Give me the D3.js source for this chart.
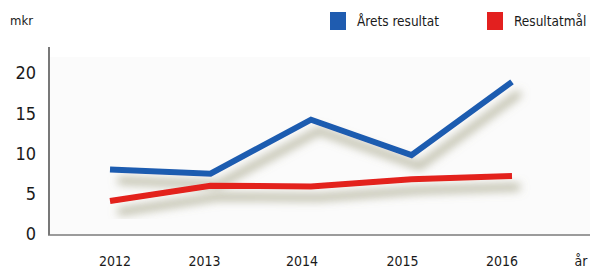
<!DOCTYPE html>
<html>
<head>
<meta charset="utf-8">
<script src="https://cdn.jsdelivr.net/npm/d3@7"></script>
<style>
  body { margin: 0; background: #fff; }
  text { font-family: "DejaVu Sans Condensed", "Liberation Sans Narrow", sans-serif; fill: #1a1a1a; }
</style>
</head>
<body>
<svg id="chart"></svg>
<script>
// data
var years = [2012, 2013, 2014, 2015, 2016];
var aretsResultat = [8.0, 7.5, 14.2, 9.8, 18.9];
var resultatmal = [4.1, 6.0, 5.9, 6.8, 7.2];
var yTicks = [0, 5, 10, 15, 20];
var seriesNames = ["Årets resultat", "Resultatmål"];
var seriesColors = ["#1f5cb0", "#e3201f"];

var width = 592, height = 274;

var svg = d3.select("#chart")
  .attr("width", width)
  .attr("height", height);

// soft olive drop shadow under the lines
var defs = svg.append("defs");
var f = defs.append("filter").attr("id", "shadow")
  .attr("x", "-20%").attr("y", "-50%").attr("width", "150%").attr("height", "220%");
f.append("feGaussianBlur").attr("in", "SourceAlpha").attr("stdDeviation", 5).attr("result", "blur");
f.append("feOffset").attr("in", "blur").attr("dx", 8).attr("dy", 11).attr("result", "off");
f.append("feFlood").attr("flood-color", "#8b8a66").attr("flood-opacity", 0.7);
f.append("feComposite").attr("in2", "off").attr("operator", "in").attr("result", "sh");
var m = f.append("feMerge");
m.append("feMergeNode").attr("in", "sh");
m.append("feMergeNode").attr("in", "SourceGraphic");

var x = d3.scalePoint()
  .domain(years)
  .range([110, 512]);

var y = d3.scaleLinear()
  .domain([0, 20])
  .range([234, 73]);

// plot background
svg.append("rect")
  .attr("x", 49).attr("y", 57)
  .attr("width", 541).attr("height", 177)
  .attr("fill", "#fbfbfb");

// axes lines
svg.append("line")
  .attr("x1", 49).attr("x2", 49)
  .attr("y1", 47).attr("y2", y(0) + 1)
  .attr("stroke", "#6a6a6a").attr("stroke-width", 1.8);
svg.append("line")
  .attr("x1", 48).attr("x2", 590)
  .attr("y1", y(0) + 1).attr("y2", y(0) + 1)
  .attr("stroke", "#7a7a7a").attr("stroke-width", 1.5);

// y tick labels
svg.append("g")
  .selectAll("text")
  .data(yTicks)
  .enter()
  .append("text")
    .attr("x", 36)
    .attr("y", function (d) { return y(d); })
    .attr("dy", "0.36em")
    .style("text-anchor", "end")
    .style("font-size", "18px")
    .text(function (d) { return d; });

svg.append("text")
  .attr("x", 10).attr("y", 25)
  .style("font-size", "13px")
  .text("mkr");

// x tick labels
svg.append("g")
  .selectAll("text")
  .data(years)
  .enter()
  .append("text")
    .attr("x", function (d, i) { return x(d) + [5, -6, -9, -9, -10][i]; })
    .attr("y", 266)
    .style("text-anchor", "middle")
    .style("font-size", "14px")
    .text(function (d) { return d; });

svg.append("text")
  .attr("x", 581).attr("y", 266)
  .style("text-anchor", "middle")
  .style("font-size", "14px")
  .text("år");

// lines
var line = d3.line()
  .x(function (d, i) { return x(years[i]); })
  .y(function (d) { return y(d); });

[aretsResultat, resultatmal].forEach(function (s, i) {
  svg.append("path")
    .datum(s)
    .attr("d", line)
    .attr("fill", "none")
    .attr("stroke", seriesColors[i])
    .attr("stroke-width", 6)
    .attr("stroke-linejoin", "miter")
    .attr("filter", "url(#shadow)");
});

// legend
var legendX = [330, 487];
seriesNames.forEach(function (name, i) {
  svg.append("rect")
    .attr("x", legendX[i]).attr("y", 12)
    .attr("width", 16).attr("height", 18)
    .attr("fill", seriesColors[i]);
  svg.append("text")
    .attr("x", legendX[i] + 27).attr("y", 26)
    .style("font-size", "13.5px")
    .text(name);
});
</script>
</body>
</html>
